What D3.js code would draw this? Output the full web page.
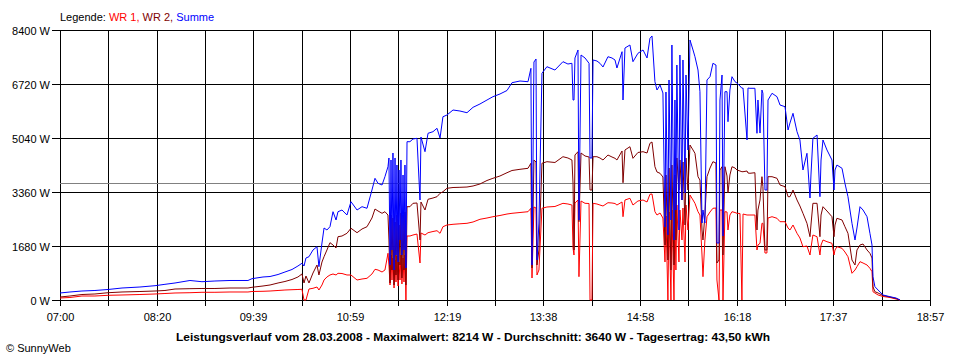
<!DOCTYPE html>
<html><head><meta charset="utf-8">
<script src="https://cdn.jsdelivr.net/npm/d3@7"></script>
<style>
html,body{margin:0;padding:0;background:#fff;}
svg{display:block;font-family:"Liberation Sans",Arial,sans-serif;}
</style></head><body>
<svg id="c" width="960" height="360"></svg>
<script>
// minutes after 07:00
const minutes = [
0, 8.2, 18.1, 28.8, 39.6, 51.1, 65.9, 78.3, 86.5, 94.8,
107.1, 117.0, 127.7, 140.1, 154.9, 158.2, 167.3, 173.1, 179.7, 185.4,
191.2, 196.1, 199.4, 201.1, 202.7, 205.2, 208.5, 211.8, 213.4, 215.9,
217.6, 220.0, 222.5, 225.0, 227.5, 229.1, 232.4, 236.5, 239.8, 244.8,
248.9, 253.0, 257.1, 259.6, 262.1, 265.4, 267.8, 270.3, 271.1, 272.0,
272.8, 273.6, 274.4, 275.3, 276.1, 276.9, 277.7, 278.6, 279.4, 280.2,
281.0, 281.8, 282.7, 283.5, 284.3, 285.1, 286.0, 288.4, 290.9, 294.2,
296.7, 297.5, 300.8, 303.3, 307.4, 310.7, 313.2, 315.6, 318.9, 323.9,
329.6, 335.4, 340.4, 346.1, 351.9, 356.8, 362.6, 368.4, 372.5, 379.1,
385.7, 388.1, 389.0, 390.6, 392.3, 393.1, 394.7, 397.2, 401.3, 407.9,
414.5, 418.6, 421.9, 422.8, 423.6, 424.4, 426.9, 427.7, 429.4, 432.7,
436.0, 436.8, 438.4, 439.3, 442.5, 445.0, 447.5, 451.6, 454.9, 457.4,
459.0, 463.2, 464.0, 465.6, 469.7, 472.2, 476.3, 480.5, 483.8, 486.2,
487.9, 490.3, 492.0, 494.5, 496.9, 498.6, 499.4, 501.0, 501.9, 503.5,
504.3, 506.0, 506.8, 507.6, 508.4, 510.1, 510.9, 512.6, 513.4, 515.1,
515.9, 517.5, 519.2, 521.7, 523.3, 525.8, 527.4, 529.1, 529.9, 531.5,
533.2, 535.7, 538.1, 540.6, 541.4, 543.1, 543.9, 545.6, 546.4, 548.0,
549.7, 550.5, 552.1, 553.8, 556.3, 557.9, 560.4, 562.0, 562.9, 566.2,
567.0, 568.6, 572.7, 574.4, 575.2, 576.9, 578.5, 579.3, 581.0, 582.6,
583.5, 586.8, 590.9, 593.4, 597.5, 600.0, 601.6, 604.1, 607.4, 609.8,
612.3, 615.6, 618.1, 618.9, 620.5, 623.9, 626.3, 627.2, 628.8, 632.1,
636.2, 637.9, 638.7, 640.3, 644.5, 646.9, 649.4, 652.7, 655.2, 656.8,
659.3, 661.8, 665.1, 667.5, 669.2, 670.0, 671.6, 674.2, 678.3, 684.0,
689.0, 692.3
];

const summe = [
218, 249, 280, 296, 327, 373, 404, 445, 488, 529,
607, 569, 591, 607, 607, 663, 716, 731, 793, 871,
949, 1058, 1142, 1058, 1307, 1347, 1556, 1658, 1036, 1773,
2240, 2178, 2280, 2747, 2489, 2747, 2800, 2644, 3058, 2800,
2903, 2853, 3422, 3786, 3630, 3578, 3836, 4147, 4418, 1089,
4356, 1556, 4573, 933, 4418, 1400, 4200, 1182, 4044, 1867,
4356, 1400, 3889, 1556, 4200, 996, 4925, 4925, 5009, 5030,
3111, 5071, 4614, 5186, 5236, 5342, 5040, 5702, 5755, 5911,
5880, 5827, 5995, 6098, 6222, 6325, 6409, 6518, 6760, 6813,
6791, 7208, 1089, 7404, 7498, 1244, 2395, 7053, 7258, 7155,
7414, 7342, 7364, 6222, 6222, 7529, 7778, 2489, 7622, 7529,
7364, 4418, 4418, 7467, 7436, 7364, 7249, 7569, 7529, 7467,
7218, 7725, 6222, 7840, 7933, 7414, 7675, 7778, 7529, 8141,
8214, 6791, 6533, 6689, 6440, 2271, 6471, 2022, 6844, 2489,
7933, 1867, 6222, 2800, 7311, 2178, 7622, 3111, 7467, 3329,
7000, 4667, 8089, 7778, 7569, 7155, 6480, 2395, 2800, 2395,
6844, 6947, 7364, 7311, 1773, 1773, 6222, 7000, 1991, 6480,
6480, 5547, 6533, 6947, 6791, 6751, 6658, 6586, 6595, 4978,
6595, 6586, 6586, 5186, 6222, 5195, 6533, 6431, 3422, 3422,
6222, 6431, 6325, 6066, 6014, 5289, 5507, 5808, 5236, 4978,
4044, 4564, 3173, 3889, 5030, 5133, 3214, 4356, 4978, 4667,
4356, 3422, 4044, 4200, 4097, 3630, 3214, 2386, 1867, 2240,
2903, 2800, 2591, 2075, 1711, 725, 414, 311, 156, 103,
62, 0
];

const wr2 = [
93, 124, 171, 187, 227, 249, 264, 280, 296, 342,
352, 358, 358, 373, 373, 395, 436, 467, 529, 576,
638, 716, 809, 529, 747, 529, 840, 1089, 778, 1182,
1347, 1556, 1783, 1711, 1618, 1969, 1991, 2075, 2231, 2094,
2209, 2280, 2551, 2831, 2769, 2697, 2747, 2644, 1867, 529,
2644, 933, 2551, 467, 2427, 778, 2644, 622, 2333, 1089,
2707, 684, 2644, 933, 2738, 467, 2903, 2903, 3008, 3018,
1867, 3049, 2800, 3133, 3173, 3214, 3319, 3369, 3475, 3500,
3506, 3515, 3547, 3609, 3718, 3786, 3858, 3960, 4029, 4066,
4097, 4253, 996, 4356, 4293, 1089, 1556, 4253, 4303, 4278,
4458, 4418, 4356, 3630, 1556, 4511, 4614, 2436, 4573, 4480,
4449, 3422, 3422, 4458, 4458, 4418, 4356, 4511, 4449, 4408,
4356, 4636, 3649, 4667, 4769, 4408, 4589, 4614, 4573, 4875,
4916, 4147, 3982, 3942, 3827, 1711, 3889, 1244, 4107, 933,
4200, 1089, 3889, 1867, 4418, 3422, 4356, 3111, 4293, 2333,
4418, 3422, 4822, 4667, 4564, 3836, 3733, 2178, 1867, 2644,
3836, 4107, 4303, 4262, 1151, 1244, 4044, 4147, 1400, 4147,
3858, 3329, 3889, 4147, 4107, 4044, 4013, 3991, 3991, 4013,
3951, 3942, 3960, 2178, 2800, 3111, 3836, 3525, 1556, 1556,
3836, 3836, 3786, 3578, 3525, 3214, 3214, 3422, 3111, 2924,
2697, 2386, 1969, 2333, 3008, 3008, 1969, 2644, 2903, 2769,
2591, 1969, 2333, 2542, 2489, 2280, 2075, 1244, 1089, 1556,
1711, 1742, 1556, 1453, 1307, 414, 258, 218, 140, 93,
47, 0
];

const wr1 = [
62, 78, 124, 124, 146, 156, 171, 187, 202, 218,
227, 240, 240, 249, 249, 264, 271, 280, 296, 311,
320, 327, 333, 0, 0, 342, 364, 404, 311, 467,
622, 716, 778, 809, 778, 831, 824, 778, 778, 622,
653, 675, 809, 955, 933, 871, 933, 1453, 1089, 467,
1400, 622, 1307, 373, 1244, 560, 1369, 436, 1182, 622,
1400, 498, 1307, 560, 1400, 0, 1991, 1991, 2022, 2053,
1151, 2084, 2022, 2094, 2131, 2156, 2075, 2280, 2333, 2355,
2371, 2386, 2427, 2511, 2551, 2591, 2629, 2675, 2697, 2722,
2747, 2853, 684, 2893, 2862, 778, 933, 2853, 2893, 2909,
3008, 2987, 2955, 1618, 1400, 3018, 3111, 725, 3080, 3008,
3002, 0, 0, 3008, 2987, 2955, 2924, 3027, 3018, 3002,
2955, 3049, 2591, 3111, 3164, 2955, 3080, 3111, 3049, 3288,
3298, 2747, 2644, 2707, 2551, 1182, 2613, 0, 2738, 0,
2800, 0, 2644, 933, 2955, 1182, 2800, 1867, 2862, 1182,
2955, 2178, 3267, 3111, 3008, 2747, 2644, 1400, 725, 1867,
2591, 2738, 2853, 2862, 622, 0, 2800, 2800, 0, 2747,
2738, 2178, 2644, 2747, 2722, 2697, 2691, 0, 2675, 2644,
2644, 2644, 2644, 1556, 1711, 1764, 2386, 2386, 1462, 1462,
2551, 2591, 2542, 2436, 2436, 2240, 2178, 2333, 2075, 1929,
1658, 1680, 1400, 1618, 2022, 1969, 1400, 1711, 1867, 1814,
1764, 1400, 1556, 1658, 1608, 1493, 1347, 831, 933, 1036,
1192, 1151, 1089, 986, 880, 258, 218, 156, 109, 78,
31, 0
];

const xTickLabels = ["07:00","08:20","09:39","10:59","12:19","13:38","14:58","16:18","17:37","18:57"];
const yTicks = [0, 1680, 3360, 5040, 6720, 8400];
const average = 3640;
const spanMinutes = 717;   // 07:00 .. 18:57
const gridDivisions = 18;
const title = "Leistungsverlauf vom 28.03.2008 - Maximalwert: 8214 W - Durchschnitt: 3640 W - Tagesertrag: 43,50 kWh";

const svg = d3.select("#c");
const x = d3.scaleLinear().domain([0, spanMinutes]).range([60, 930]);
const y = d3.scaleLinear().domain([0, 8400]).range([300, 30]);
const px = v => Math.round(v) + 0.5;

const gridVals = d3.range(gridDivisions + 1).map(i => i * spanMinutes / gridDivisions);

const g = svg.append("g").attr("shape-rendering", "crispEdges");
g.selectAll(".hg").data(yTicks).enter().append("line")
  .attr("x1", 52).attr("x2", 930.5)
  .attr("y1", d => px(y(d))).attr("y2", d => px(y(d)))
  .attr("stroke", "#000").attr("stroke-width", 1);
g.selectAll(".vg").data(gridVals).enter().append("line")
  .attr("x1", d => px(x(d))).attr("x2", d => px(x(d)))
  .attr("y1", 30).attr("y2", 306)
  .attr("stroke", "#000").attr("stroke-width", 1);
g.append("line")
  .attr("x1", 60).attr("x2", 930)
  .attr("y1", px(y(average))).attr("y2", px(y(average)))
  .attr("stroke", "#808080").attr("stroke-width", 1);

svg.selectAll(".yl").data(yTicks).enter().append("text")
  .attr("x", 50).attr("y", d => y(d) + 4.5)
  .attr("text-anchor", "end").attr("font-size", 11).attr("fill", "#000")
  .text(d => d + " W");
svg.selectAll(".xl").data(xTickLabels).enter().append("text")
  .attr("x", (d, i) => px(x(gridVals[i * 2])))
  .attr("y", 321).attr("text-anchor", "middle").attr("font-size", 11).attr("fill", "#000")
  .text(d => d);

const series = [
  {vals: wr1, color: "#ff0000"},
  {vals: wr2, color: "#800000"},
  {vals: summe, color: "#0000ff"}
];
const line = d3.line().x(d => x(d[0])).y(d => y(d[1]));
series.forEach(s => {
  const pts = minutes.map((m, i) => [m, s.vals[i]]);
  svg.append("path").attr("d", line(pts))
    .attr("fill", "none").attr("stroke", s.color).attr("stroke-width", 1)
    .attr("stroke-linejoin", "miter").attr("stroke-miterlimit", 2);
});

const leg = svg.append("text").attr("x", 60).attr("y", 20.5).attr("font-size", 11);
leg.append("tspan").attr("fill", "#000").text("Legende: ");
leg.append("tspan").attr("fill", "#ff0000").text("WR 1, ");
leg.append("tspan").attr("fill", "#800000").text("WR 2, ");
leg.append("tspan").attr("fill", "#0000ff").text("Summe");

svg.append("text").attr("x", 473).attr("y", 341).attr("text-anchor", "middle")
  .attr("font-size", 11.5).attr("font-weight", "bold").attr("fill", "#000")
  .attr("textLength", 594).attr("lengthAdjust", "spacingAndGlyphs")
  .text(title);

svg.append("text").attr("x", 6).attr("y", 352).attr("font-size", 11).attr("fill", "#000")
  .text("\u00A9 SunnyWeb");
</script>
</body></html>
